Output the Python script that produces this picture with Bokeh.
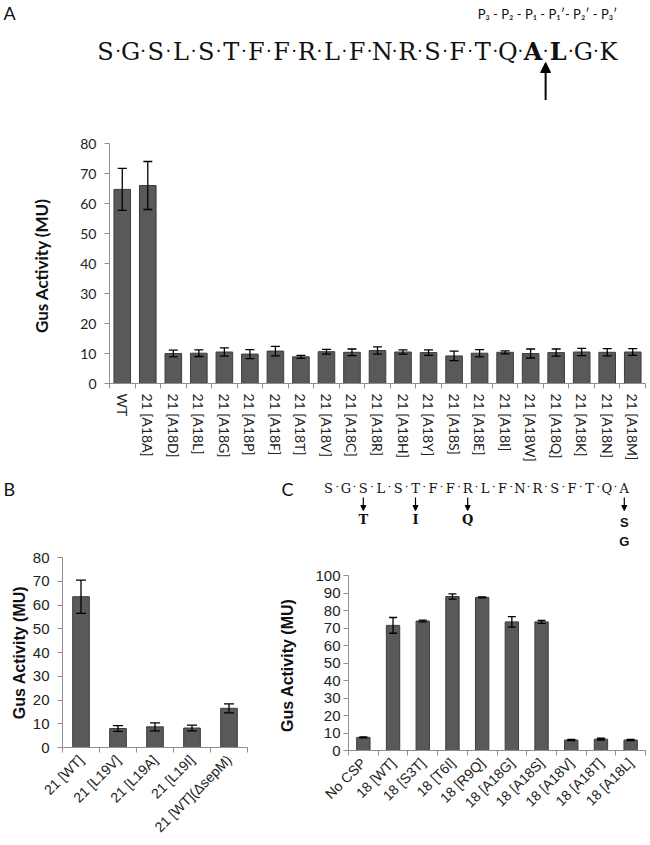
from bokeh.plotting import figure
from bokeh.models import Range1d, FixedTicker, ColumnDataSource, Whisker, TeeHead, Arrow, NormalHead
from bokeh.layouts import column, row
from bokeh.core.properties import value
from bokeh.embed import file_html
from bokeh.resources import INLINE
import math

# ---------------- data ----------------
a_labels = ["WT", "21 [A18A]", "21 [A18D]", "21 [A18L]", "21 [A18G]", "21 [A18P]", "21 [A18F]",
            "21 [A18T]", "21 [A18V]", "21 [A18C]", "21 [A18R]", "21 [A18H]", "21 [A18Y]", "21 [A18S]",
            "21 [A18E]", "21 [A18I]", "21 [A18W]", "21 [A18Q]", "21 [A18K]", "21 [A18N]", "21 [A18M]"]
a_values = [64.7, 66.0, 10.0, 10.1, 10.5, 9.8, 10.8, 8.9, 10.6, 10.4, 11.0, 10.5, 10.3, 9.2,
            10.1, 10.4, 10.0, 10.3, 10.5, 10.4, 10.5]
a_errors = [7.0, 8.0, 1.1, 1.1, 1.4, 1.5, 1.6, 0.5, 0.8, 1.1, 1.2, 0.7, 0.9, 1.6,
            1.2, 0.5, 1.5, 1.2, 1.2, 1.2, 1.1]
a_yticks = [0, 10, 20, 30, 40, 50, 60, 70, 80]

b_labels = ["21 [WT]", "21 [L19V]", "21 [L19A]", "21 [L19I]", "21 [WT](\u0394sepM)"]
b_values = [63.5, 8.0, 8.7, 8.2, 16.5]
b_errors = [7.0, 1.2, 1.7, 1.2, 1.9]
b_yticks = [0, 10, 20, 30, 40, 50, 60, 70, 80]

c_labels = ["No CSP", "18 [WT]", "18 [S3T]", "18 [T6I]", "18 [R9Q]", "18 [A18G]", "18 [A18S]",
            "18 [A18V]", "18 [A18T]", "18 [A18L]"]
c_values = [7.5, 71.5, 74.0, 88.0, 87.5, 73.5, 73.5, 6.0, 6.5, 6.0]
c_errors = [0.3, 4.5, 0.5, 1.5, 0.3, 3.0, 0.8, 0.3, 0.5, 0.4]
c_yticks = [0, 10, 20, 30, 40, 50, 60, 70, 80, 90, 100]

seq_a = ["S", "G", "S", "L", "S", "T", "F", "F", "R", "L", "F", "N", "R", "S", "F", "T", "Q", "A", "L", "G", "K"]
seq_a_bold = [17, 18]
p_sites = "P\u2083 - P\u2082 - P\u2081 - P\u2081\u2032- P\u2082\u2032 - P\u2083\u2032"
seq_c = ["S", "G", "S", "L", "S", "T", "F", "F", "R", "L", "F", "N", "R", "S", "F", "T", "Q", "A"]
c_mut_pos = [2, 5, 8, 17]
c_mut_res = ["T", "I", "Q", "S"]
c_extra = "G"

BAR = "#595959"
BAR_LINE = "#3d3d3d"
AX = "#8f8f8f"
W = 648


def bar_fig(labels, values, errors, yticks, w, h, bl, br, bt, bb, bar_w, font, tick_fs, xtick_fs,
            lab_fs, ylabel, orient, lab_stand, tick_stand, cap):
    n = len(labels)
    xs = list(range(1, n + 1))
    src = ColumnDataSource(dict(x=xs, top=values,
                                upper=[v + e for v, e in zip(values, errors)],
                                lower=[v - e for v, e in zip(values, errors)]))
    p = figure(width=w, height=h, output_backend="svg", toolbar_location=None,
               x_range=Range1d(0.5, n + 0.5), y_range=Range1d(yticks[0], yticks[-1]),
               min_border_left=bl, min_border_right=br, min_border_top=bt, min_border_bottom=bb)
    p.outline_line_color = None
    p.grid.grid_line_color = None
    p.vbar(x="x", top="top", width=bar_w, source=src, fill_color=BAR, line_color=BAR_LINE, line_width=1)
    wh = Whisker(source=src, base="x", upper="upper", lower="lower", line_color="black", line_width=1.3,
                 upper_head=TeeHead(size=cap, line_color="black", line_width=1.3),
                 lower_head=TeeHead(size=cap, line_color="black", line_width=1.3), level="annotation")
    p.add_layout(wh)
    xa = p.xaxis[0]
    xa.ticker = FixedTicker(ticks=xs, minor_ticks=[i + 0.5 for i in range(0, n + 1)])
    xa.major_label_overrides = {i: lab for i, lab in zip(xs, labels)}
    xa.major_tick_line_color = None
    xa.minor_tick_line_color = AX
    xa.minor_tick_out = 5
    xa.minor_tick_in = 0
    xa.axis_line_color = AX
    xa.major_label_orientation = orient
    xa.major_label_text_font = font
    xa.major_label_text_font_size = xtick_fs
    xa.major_label_text_color = "#222222"
    xa.major_label_standoff = 4
    ya = p.yaxis[0]
    ya.ticker = FixedTicker(ticks=yticks)
    ya.minor_tick_line_color = None
    ya.major_tick_line_color = AX
    ya.major_tick_out = 5
    ya.major_tick_in = 0
    ya.axis_line_color = AX
    ya.major_label_text_font = font
    ya.major_label_text_font_size = tick_fs
    ya.major_label_text_color = "#222222"
    ya.major_label_standoff = tick_stand
    ya.axis_label = ylabel
    ya.axis_label_text_font = font
    ya.axis_label_text_font_style = "bold"
    ya.axis_label_text_font_size = lab_fs
    ya.axis_label_text_color = "#111111"
    ya.axis_label_standoff = lab_stand
    return p


def header(x0, x1, y0, y1):
    # data coordinates of a header = page coordinates (y negated)
    p = figure(width=x1 - x0, height=y1 - y0, output_backend="svg", toolbar_location=None,
               x_range=Range1d(x0, x1), y_range=Range1d(-y1, -y0), min_border=0,
               x_axis_location=None, y_axis_location=None)
    p.grid.visible = False
    p.outline_line_color = None
    return p


def txt(p, x, y, s, font, size, bold=False, align="center", color="#111111"):
    p.text(x=[x], y=[-y], text=[s], text_font=value(font), text_font_size=size,
           text_font_style="bold" if bold else "normal", text_align=align,
           text_baseline="middle", text_color=color)


def arrow(p, x, y_start, y_end, size, lw):
    p.add_layout(Arrow(end=NormalHead(size=size, fill_color="black", line_color="black"),
                       x_start=x, y_start=-y_start, x_end=x, y_end=-y_end,
                       line_width=lw, line_color="black"))


# ---------------- header A ----------------
hA = header(0, W, 0, 100)
txt(hA, 3, 12, "A", "Lato", "18px", align="left")
xs_a = [105 + 25.15 * i for i in range(len(seq_a))]
for i, ch in enumerate(seq_a):
    txt(hA, xs_a[i], 51, ch, "DejaVu Serif", "24px", bold=(i in seq_a_bold))
    if i < len(seq_a) - 1:
        txt(hA, (xs_a[i] + xs_a[i + 1]) / 2, 50, "\u00b7", "DejaVu Serif", "18px")
txt(hA, 547, 13, p_sites, "Lato", "13px")
arrow(hA, (xs_a[17] + xs_a[18]) / 2, 100, 62, 10, 2)

# ---------------- panel A ----------------
figA = bar_fig(a_labels, a_values, a_errors, a_yticks, W, 375, 109, 3, 43, 92, 0.65,
               "Lato", "14px", "14px", "17px", "Gus  Activity (MU)", "vertical", 25, 8, 9)

# ---------------- headers B / C ----------------
XS = 270
hB = header(0, XS, 475, 548)
txt(hB, 3, 488, "B", "Lato", "18px", align="left")
hC = header(XS, W, 475, 548)
txt(hC, 281, 488, "C", "Lato", "18px", align="left")
xs_c = [328 + 17.4 * i for i in range(len(seq_c))]
for i, ch in enumerate(seq_c):
    txt(hC, xs_c[i], 488, ch, "DejaVu Serif", "13px")
    if i < len(seq_c) - 1:
        txt(hC, (xs_c[i] + xs_c[i + 1]) / 2, 487, "\u00b7", "DejaVu Serif", "11px")
for k, pos in enumerate(c_mut_pos):
    arrow(hC, xs_c[pos], 497, 510, 5, 1.2)
    if k < 3:
        txt(hC, xs_c[pos], 519, c_mut_res[k], "DejaVu Serif", "13px", bold=True)
    else:
        txt(hC, xs_c[pos], 522, c_mut_res[k], "Liberation Sans", "13px", bold=True)
txt(hC, xs_c[c_mut_pos[-1]], 541, c_extra, "Liberation Sans", "13px", bold=True)

# ---------------- panels B and C ----------------
figB = bar_fig(b_labels, b_values, b_errors, b_yticks, XS, 296, 62, 23, 9, 97, 0.45,
               "Liberation Sans", "15px", "14px", "16px", "Gus Activity (MU)", math.pi / 4, 2, 8, 10)
figC = bar_fig(c_labels, c_values, c_errors, c_yticks, W - XS, 296, 78, 3, 27, 94, 0.45,
               "Liberation Sans", "15px", "14px", "16px", "Gus  Activity (MU)", math.pi / 4, 16, 3, 8)

layout = column(row(hA), row(figA),
                row(column(row(hB), row(figB)), column(row(hC), row(figC))))
open("out.html", "w").write(file_html(layout, INLINE))
